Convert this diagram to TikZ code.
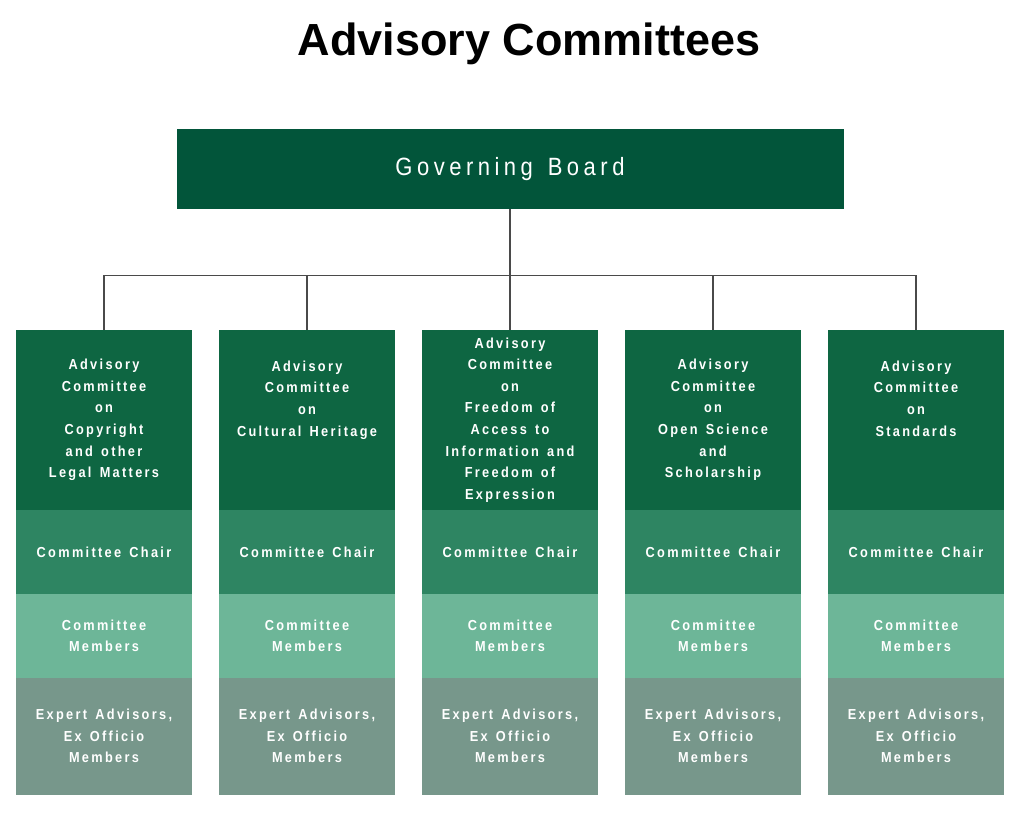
\documentclass[tikz,border=0pt]{standalone}
\usepackage{fontspec}
\setmainfont{Liberation Sans}
\newfontfamily\boxfont[FakeStretch=0.88,LetterSpace=16,WordSpace=1.4]{Liberation Sans}
\newfontfamily\boardfont[FakeStretch=0.88,LetterSpace=18,WordSpace=1.4]{Liberation Sans}
\usetikzlibrary{trees,positioning}
\definecolor{board}{HTML}{02553A}
\definecolor{cmtee}{HTML}{0E6642}
\definecolor{chair}{HTML}{2E8562}
\definecolor{members}{HTML}{6DB698}
\definecolor{experts}{HTML}{77978B}
\definecolor{wire}{HTML}{4A4A4A}

\begin{document}
\begin{tikzpicture}[x=1pt,y=1pt,
                   level 1/.style={sibling distance=203pt}, level distance=251pt,
                   box/.style={rectangle, minimum width=176pt, inner sep=0pt, text=white, align=center,
                               font=\boxfont\bfseries\fontsize{14.5}{21.6}\selectfont},
                   cmteebox/.style={box, fill=cmtee, minimum height=180pt},
                   chairbox/.style={box, fill=chair, minimum height=84pt},
                   membox/.style={box, fill=members, minimum height=84pt},
                   expbox/.style={box, fill=experts, minimum height=117pt},
                   edge from parent/.style={draw=wire, line width=1.2pt},
                   edge from parent path={(\tikzparentnode.south) -- ++(0,-66) -| (\tikzchildnode.north)}]
\useasboundingbox (0,0) rectangle (1024,-814);
\node[font=\bfseries\fontsize{45}{54}\selectfont, anchor=base] (title) at (529,-55) {Advisory Committees};
\node[fill=board, minimum width=667pt, minimum height=80pt, text=white,
      font=\boardfont\fontsize{25}{30}\selectfont] (board) at (510,-169) {Governing Board}
child {node[cmteebox] (c1) {Advisory\\Committee\\on\\Copyright\\and other\\Legal Matters}}
child {node[cmteebox] (c2) {Advisory\\Committee\\on\\Cultural Heritage\\~\\~}}
child {node[cmteebox] (c3) {Advisory\\Committee\\on\\Freedom of\\Access to\\Information and\\Freedom of\\Expression}}
child {node[cmteebox] (c4) {Advisory\\Committee\\on\\Open Science\\and\\Scholarship}}
child {node[cmteebox] (c5) {Advisory\\Committee\\on\\Standards\\~\\~}}
;
\foreach \c in {1,...,5}{
  \node[chairbox, below=-0.5pt of c\c] (ch\c) {Committee Chair};
  \node[membox, below=-0.5pt of ch\c] (m\c) {Committee\\Members};
  \node[expbox, below=-0.5pt of m\c] (e\c) {Expert Advisors,\\Ex Officio\\Members};
}
\end{tikzpicture}
\end{document}
